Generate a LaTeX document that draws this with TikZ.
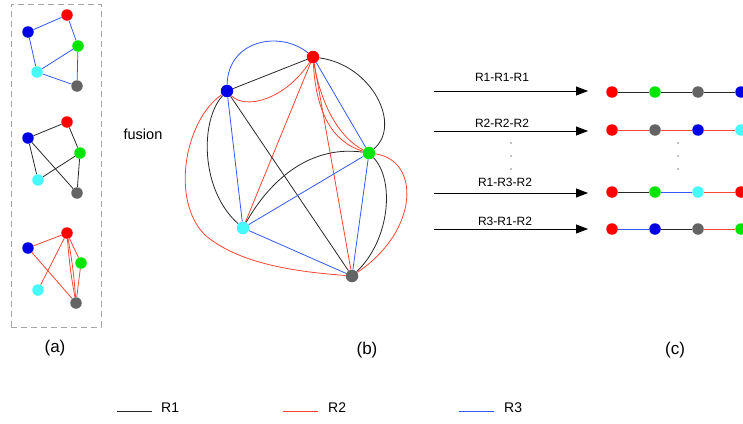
\documentclass[tikz,border=0pt]{standalone}
\usepackage{fontspec}
\setmainfont{Liberation Sans}
\usetikzlibrary{arrows.meta}
\definecolor{vR}{RGB}{255,0,0}
\definecolor{vG}{RGB}{0,230,0}
\definecolor{vB}{RGB}{0,0,230}
\definecolor{vC}{RGB}{70,250,250}
\definecolor{vK}{RGB}{100,100,100}
\definecolor{l1}{RGB}{40,40,40}
\definecolor{l2}{RGB}{250,70,50}
\definecolor{l3}{RGB}{50,90,250}
\definecolor{boxgray}{RGB}{165,165,165}
\pgfdeclarelayer{bg}
\pgfsetlayers{bg,main}
\begin{document}
\begin{tikzpicture}[x=1pt,y=-1pt,
  vtx/.style={circle, fill=#1, inner sep=0pt, minimum size=11.5pt},
  e1/.style={draw=l1, line width=0.8pt},
  e2/.style={draw=l2, line width=0.8pt},
  e3/.style={draw=l3, line width=0.8pt},
  arr/.style={draw=black, line width=0.8pt, -{Triangle[length=12pt,width=9pt]}},
  lab/.style={font=\fontsize{12}{14}\selectfont, inner sep=0pt},
  panel/.style={font=\fontsize{17}{20}\selectfont, inner sep=0pt},
  leg/.style={font=\fontsize{14}{16}\selectfont, inner sep=0pt, anchor=west},
  dot/.style={circle, fill=black, inner sep=0pt, minimum size=1.4pt}]
\useasboundingbox (0,0) rectangle (743,423);
\clip (0,0) rectangle (743,423);

% ---------- panel (a) ----------
\node[draw=boxgray, dashed, dash pattern=on 6pt off 4pt, line width=0.9pt, minimum width=90pt, minimum height=323pt, inner sep=0pt] (abox) at (56,165.5) {};

% a1 (R3)
\node[vtx=vR] (a1R) at (67,15) {};
\node[vtx=vB] (a1B) at (28,32) {};
\node[vtx=vG] (a1G) at (78,46) {};
\node[vtx=vC] (a1C) at (37,72) {};
\node[vtx=vK] (a1K) at (77,86) {};
% a2 (R1)
\node[vtx=vR] (a2R) at (67,122) {};
\node[vtx=vB] (a2B) at (28,138) {};
\node[vtx=vG] (a2G) at (80,153) {};
\node[vtx=vC] (a2C) at (38,180) {};
\node[vtx=vK] (a2K) at (77,193) {};
% a3 (R2)
\node[vtx=vR] (a3R) at (67,233) {};
\node[vtx=vB] (a3B) at (28,248) {};
\node[vtx=vG] (a3G) at (81,263) {};
\node[vtx=vC] (a3C) at (38,290) {};
\node[vtx=vK] (a3K) at (76,303) {};

\begin{pgfonlayer}{bg}
\draw[e3] (a1R) -- (a1B);
\draw[e3] (a1R) -- (a1G);
\draw[e3] (a1B) -- (a1C);
\draw[e3] (a1C) -- (a1G);
\draw[e3] (a1C) -- (a1K);
\draw[e3] (a1G) -- (a1K);

\draw[e1] (a2B) -- (a2R);
\draw[e1] (a2R) -- (a2G);
\draw[e1] (a2B) -- (a2C);
\draw[e1] (a2B) -- (a2K);
\draw[e1] (a2C) -- (a2G);
\draw[e1] (a2G) -- (a2K);

\draw[e2] (a3B) -- (a3R);
\draw[e2] (a3R) -- (a3C);
\draw[e2] (a3B) -- (a3K);
\draw[e2] (a3R) -- (a3G);
\draw[e2] (a3R) to[bend right=3] (a3K);
\draw[e2] (a3R) to[bend left=3] (a3K);
\draw[e2] (a3G) -- (a3K);
\end{pgfonlayer}

\node[panel] (la) at (55,348) {(a)};
\node[font=\fontsize{14.5}{17}\selectfont, inner sep=0pt] (fus) at (143,134) {fusion};

% ---------- panel (b) ----------
\node[vtx=vR, minimum size=12.5pt] (bR) at (313,57) {};
\node[vtx=vB, minimum size=12.5pt] (bB) at (227,91) {};
\node[vtx=vG, minimum size=12.5pt] (bG) at (369,153) {};
\node[vtx=vC, minimum size=12.5pt] (bC) at (243,228) {};
\node[vtx=vK, minimum size=12.5pt] (bK) at (352,276) {};

\begin{pgfonlayer}{bg}
% blue - red
\draw[e3] (bB) .. controls (228,40) and (280,30) .. (bR);
\draw[e1] (bB) -- (bR);
\draw[e2] (bB) .. controls (245,110) and (285,100) .. (bR);
% red - green
\draw[e1] (bR) .. controls (372,65) and (402,125) .. (bG);
\draw[e3] (bR) -- (bG);
\draw[e2] (bR) .. controls (316,112) and (332,142) .. (bG);
\draw[e2] (bR) .. controls (321,106) and (340,138) .. (bG);
% red - cyan, red - gray
\draw[e2] (bR) -- (bC);
\draw[e2] (bR) -- (bK);
% blue - cyan
\draw[e3] (bB) -- (bC);
\draw[e1] (bB) .. controls (200,120) and (200,190) .. (bC);
% blue - gray
\draw[e1] (bB) -- (bK);
\draw[e2] (bB) .. controls (185,120) and (170,200) .. (205,235) .. controls (240,265) and (300,272) .. (bK);
% cyan - green
\draw[e3] (bC) -- (bG);
\draw[e1] (bC) .. controls (270,180) and (310,145) .. (bG);
% cyan - gray
\draw[e3] (bC) -- (bK);
% green - gray
\draw[e3] (bG) -- (bK);
\draw[e1] (bG) .. controls (395,180) and (390,240) .. (bK);
\draw[e2] (bG) .. controls (420,160) and (420,230) .. (bK);
\end{pgfonlayer}

\node[panel] (lb) at (367,350) {(b)};

% ---------- panel (c) ----------
\coordinate (s1) at (434,91);  \coordinate (t1) at (588,91);
\coordinate (s2) at (434,131); \coordinate (t2) at (588,131);
\coordinate (s3) at (434,193); \coordinate (t3) at (588,193);
\coordinate (s4) at (434,229); \coordinate (t4) at (588,229);
\draw[arr] (s1) -- (t1);
\draw[arr] (s2) -- (t2);
\draw[arr] (s3) -- (t3);
\draw[arr] (s4) -- (t4);
\node[lab] (r1) at (502,77) {R1-R1-R1};
\node[lab] (r2) at (502,123) {R2-R2-R2};
\node[lab] (r3) at (505,182) {R1-R3-R2};
\node[lab] (r4) at (505,221) {R3-R1-R2};

\node[dot] (d1) at (511,143) {};
\node[dot] (d2) at (511,156) {};
\node[dot] (d3) at (511,169) {};
\node[dot] (d4) at (678,143) {};
\node[dot] (d5) at (678,156) {};
\node[dot] (d6) at (678,169) {};

% row 1
\node[vtx=vR] (c1a) at (612,92) {};
\node[vtx=vG] (c1b) at (655,92) {};
\node[vtx=vK] (c1c) at (698,92) {};
\node[vtx=vB] (c1d) at (741,92) {};
% row 2
\node[vtx=vR] (c2a) at (612,130) {};
\node[vtx=vK] (c2b) at (655,130) {};
\node[vtx=vB] (c2c) at (698,130) {};
\node[vtx=vC] (c2d) at (741,130) {};
% row 3
\node[vtx=vR] (c3a) at (612,192) {};
\node[vtx=vG] (c3b) at (655,192) {};
\node[vtx=vC] (c3c) at (698,192) {};
\node[vtx=vR] (c3d) at (741,192) {};
% row 4
\node[vtx=vR] (c4a) at (612,229) {};
\node[vtx=vB] (c4b) at (655,229) {};
\node[vtx=vK] (c4c) at (698,229) {};
\node[vtx=vG] (c4d) at (741,229) {};

\begin{pgfonlayer}{bg}
\draw[e1] (c1a) -- (c1b);
\draw[e1] (c1b) -- (c1c);
\draw[e1] (c1c) -- (c1d);
\draw[e2] (c2a) -- (c2b);
\draw[e2] (c2b) -- (c2c);
\draw[e2] (c2c) -- (c2d);
\draw[e1] (c3a) -- (c3b);
\draw[e3] (c3b) -- (c3c);
\draw[e2] (c3c) -- (c3d);
\draw[e3] (c4a) -- (c4b);
\draw[e1] (c4b) -- (c4c);
\draw[e2] (c4c) -- (c4d);
\end{pgfonlayer}

\node[panel] (lc) at (675,350) {(c)};

% ---------- legend ----------
\coordinate (g1a) at (117,411); \coordinate (g1b) at (152,411);
\coordinate (g2a) at (283,411); \coordinate (g2b) at (318,411);
\coordinate (g3a) at (459,411); \coordinate (g3b) at (494,411);
\draw[e1, line width=1pt] (g1a) -- (g1b);
\draw[e2, line width=1pt] (g2a) -- (g2b);
\draw[e3, line width=1pt] (g3a) -- (g3b);
\node[leg] (t1l) at (161,408) {R1};
\node[leg] (t2l) at (328,408) {R2};
\node[leg] (t3l) at (504,408) {R3};
\end{tikzpicture}
\end{document}
